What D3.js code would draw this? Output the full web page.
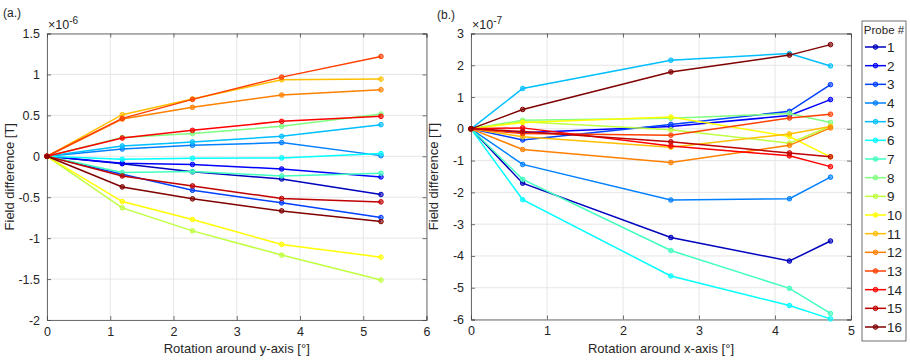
<!DOCTYPE html>
<html>
<head>
<meta charset="utf-8">
<script src="https://cdn.jsdelivr.net/npm/d3@7"></script>
<style>
  body { margin: 0; background: #fff; }
  text { font-family: "Liberation Sans", Arial, sans-serif; fill: #262626; }
</style>
</head>
<body>
<svg id="chart" width="910" height="362"></svg>
<script>
// --- Dữ liệu ---
const probes = d3.range(1, 17);
// jet(16)
const probeColors = [
  "#0000bf", "#0000ff", "#0040ff", "#0080ff", "#00bfff", "#00ffff", "#40ffbf", "#80ff80",
  "#bfff40", "#ffff00", "#ffbf00", "#ff8000", "#ff4000", "#ff0000", "#bf0000", "#800000"
];

// (a.) rotation around y-axis, field difference in 1e-6 T
const rotY = [0, 1.19, 2.3, 3.71, 5.28];
const diffY = [
  [0, -0.09, -0.19, -0.277, -0.467],
  [0, -0.085, -0.10, -0.155, -0.252],
  [0, -0.22, -0.415, -0.569, -0.748],
  [0, 0.089, 0.134, 0.167, 0.008],
  [0, 0.126, 0.175, 0.244, 0.386],
  [0, -0.037, -0.024, -0.02, 0.033],
  [0, -0.199, -0.187, -0.24, -0.207],
  [0, 0.23, 0.277, 0.366, 0.516],
  [0, -0.63, -0.911, -1.207, -1.512],
  [0, -0.553, -0.772, -1.077, -1.232],
  [0, 0.508, 0.70, 0.935, 0.943],
  [0, 0.455, 0.598, 0.748, 0.813],
  [0, 0.463, 0.695, 0.967, 1.22],
  [0, 0.223, 0.317, 0.427, 0.488],
  [0, -0.24, -0.362, -0.516, -0.557],
  [0, -0.374, -0.52, -0.667, -0.797]
];

// (b.) rotation around x-axis, field difference in 1e-7 T
const rotX = [0, 0.68, 2.63, 4.19, 4.73];
const diffX = [
  [0, -1.71, -3.42, -4.16, -3.53],
  [0, -0.12, 0.07, 0.42, 0.92],
  [0, -0.35, 0.14, 0.55, 1.39],
  [0, -1.12, -2.24, -2.2, -1.52],
  [0, 1.27, 2.16, 2.37, 1.98],
  [0, -2.23, -4.63, -5.56, -5.98],
  [0, -1.59, -3.83, -5.02, -5.81],
  [0, 0.27, 0.33, 0.48, 0.2],
  [0, 0.22, -0.03, -0.45, 0.08],
  [0, 0.2, 0.37, -0.24, -0.88],
  [0, -0.25, -0.58, -0.16, 0.07],
  [0, -0.65, -1.06, -0.52, 0.03],
  [0, -0.15, -0.2, 0.34, 0.46],
  [0, 0.03, -0.54, -0.85, -1.19],
  [0, -0.08, -0.41, -0.76, -0.88],
  [0, 0.61, 1.79, 2.32, 2.65]
];

const ticksYa = [-2, -1.5, -1, -0.5, 0, 0.5, 1, 1.5];
const ticksXa = [0, 1, 2, 3, 4, 5, 6];
const ticksYb = [-6, -5, -4, -3, -2, -1, 0, 1, 2, 3];
const ticksXb = [0, 1, 2, 3, 4, 5];

const svg = d3.select("#chart");

function panel(opt) {
  const x = d3.scaleLinear().domain(opt.xDomain).range([opt.left, opt.right]);
  const y = d3.scaleLinear().domain(opt.yDomain).range([opt.bottom, opt.top]);
  const g = svg.append("g");

  // lưới
  g.append("g").selectAll("line").data(opt.xTicks).enter().append("line")
    .attr("x1", d => x(d)).attr("x2", d => x(d))
    .attr("y1", opt.top).attr("y2", opt.bottom)
    .attr("stroke", "#e6e6e6").attr("stroke-width", 1);
  g.append("g").selectAll("line").data(opt.yTicks).enter().append("line")
    .attr("y1", d => y(d)).attr("y2", d => y(d))
    .attr("x1", opt.left).attr("x2", opt.right)
    .attr("stroke", "#e6e6e6").attr("stroke-width", 1);

  // trục (tick hướng vào trong, cả 4 cạnh)
  const fmt = d => String(d);
  g.append("g").attr("transform", `translate(0,${opt.bottom})`)
    .call(d3.axisBottom(x).tickValues(opt.xTicks).tickSize(-4).tickPadding(7).tickFormat(fmt));
  g.append("g").attr("transform", `translate(0,${opt.top})`)
    .call(d3.axisTop(x).tickValues(opt.xTicks).tickSize(-4).tickFormat(""));
  g.append("g").attr("transform", `translate(${opt.left},0)`)
    .call(d3.axisLeft(y).tickValues(opt.yTicks).tickSize(-4).tickPadding(7).tickFormat(fmt));
  g.append("g").attr("transform", `translate(${opt.right},0)`)
    .call(d3.axisRight(y).tickValues(opt.yTicks).tickSize(-4).tickFormat(""));
  g.selectAll(".domain").attr("stroke", "#4d4d4d").attr("stroke-width", 0.8);
  g.selectAll(".tick line").attr("stroke", "#4d4d4d").attr("stroke-width", 0.8);
  g.selectAll(".tick text").style("font-size", "12.5px").attr("fill", "#262626");

  // đường + điểm
  const line = d3.line().x((d, i) => x(opt.xs[i])).y(d => y(d));
  opt.data.forEach((vals, k) => {
    const s = g.append("g");
    s.append("path").datum(vals)
      .attr("d", line).attr("fill", "none")
      .attr("stroke", probeColors[k]).attr("stroke-width", 1.5);
    s.selectAll("circle").data(vals).enter().append("circle")
      .attr("cx", (d, i) => x(opt.xs[i])).attr("cy", d => y(d)).attr("r", 2.3)
      .attr("fill", probeColors[k]).attr("fill-opacity", 0.6)
      .attr("stroke", probeColors[k]).attr("stroke-width", 1);
  });

  // nhãn trục
  g.append("text")
    .attr("x", (opt.left + opt.right) / 2).attr("y", opt.bottom + 33)
    .attr("text-anchor", "middle").style("font-size", "13px")
    .text(opt.xLabel);
  g.append("text")
    .attr("transform", `translate(${opt.left - 33},${(opt.top + opt.bottom) / 2}) rotate(-90)`)
    .attr("text-anchor", "middle").style("font-size", "13px")
    .text("Field difference [T]");

  // hệ số mũ
  const ex = g.append("text").attr("x", opt.left + 1).attr("y", opt.top - 5)
    .style("font-size", "12.5px");
  ex.append("tspan").text("×10");
  ex.append("tspan").attr("dy", -5).style("font-size", "10px").text(opt.exp);

  // tiêu đề con
  g.append("text").attr("x", opt.tagX).attr("y", opt.tagY)
    .style("font-size", "12px").text(opt.tag);
}

panel({
  xs: rotY, data: diffY, xDomain: [0, 6], yDomain: [-2, 1.5],
  xTicks: ticksXa, yTicks: ticksYa,
  left: 47, right: 426.5, top: 33.5, bottom: 320,
  xLabel: "Rotation around y-axis [°]", exp: "-6", tag: "(a.)", tagX: 3, tagY: 17
});

panel({
  xs: rotX, data: diffX, xDomain: [0, 5], yDomain: [-6, 3],
  xTicks: ticksXb, yTicks: ticksYb,
  left: 471, right: 851, top: 33.5, bottom: 319.5,
  xLabel: "Rotation around x-axis [°]", exp: "-7", tag: "(b.)", tagX: 437, tagY: 19
});

// --- Chú giải ---
const leg = svg.append("g");
leg.append("rect").attr("x", 862).attr("y", 21).attr("width", 44).attr("height", 320)
  .attr("fill", "#fff").attr("stroke", "#4d4d4d").attr("stroke-width", 0.8);
leg.append("text").attr("x", 884).attr("y", 34).attr("text-anchor", "middle")
  .style("font-size", "11.5px").text("Probe #");

const ly = d3.scalePoint().domain(probes).range([47, 327]);
const items = leg.selectAll("g.item").data(probes).enter().append("g").attr("class", "item")
  .attr("transform", d => `translate(0,${ly(d)})`);
items.append("line").attr("x1", 865).attr("x2", 886).attr("y1", 0).attr("y2", 0)
  .attr("stroke", (d, i) => probeColors[i]).attr("stroke-width", 1.5);
items.append("circle").attr("cx", 875.5).attr("cy", 0).attr("r", 2.3)
  .attr("fill", (d, i) => probeColors[i]).attr("fill-opacity", 0.6)
  .attr("stroke", (d, i) => probeColors[i]);
items.append("text").attr("x", 887).attr("y", 5)
  .style("font-size", "13.5px").text(d => d);
</script>
</body>
</html>
